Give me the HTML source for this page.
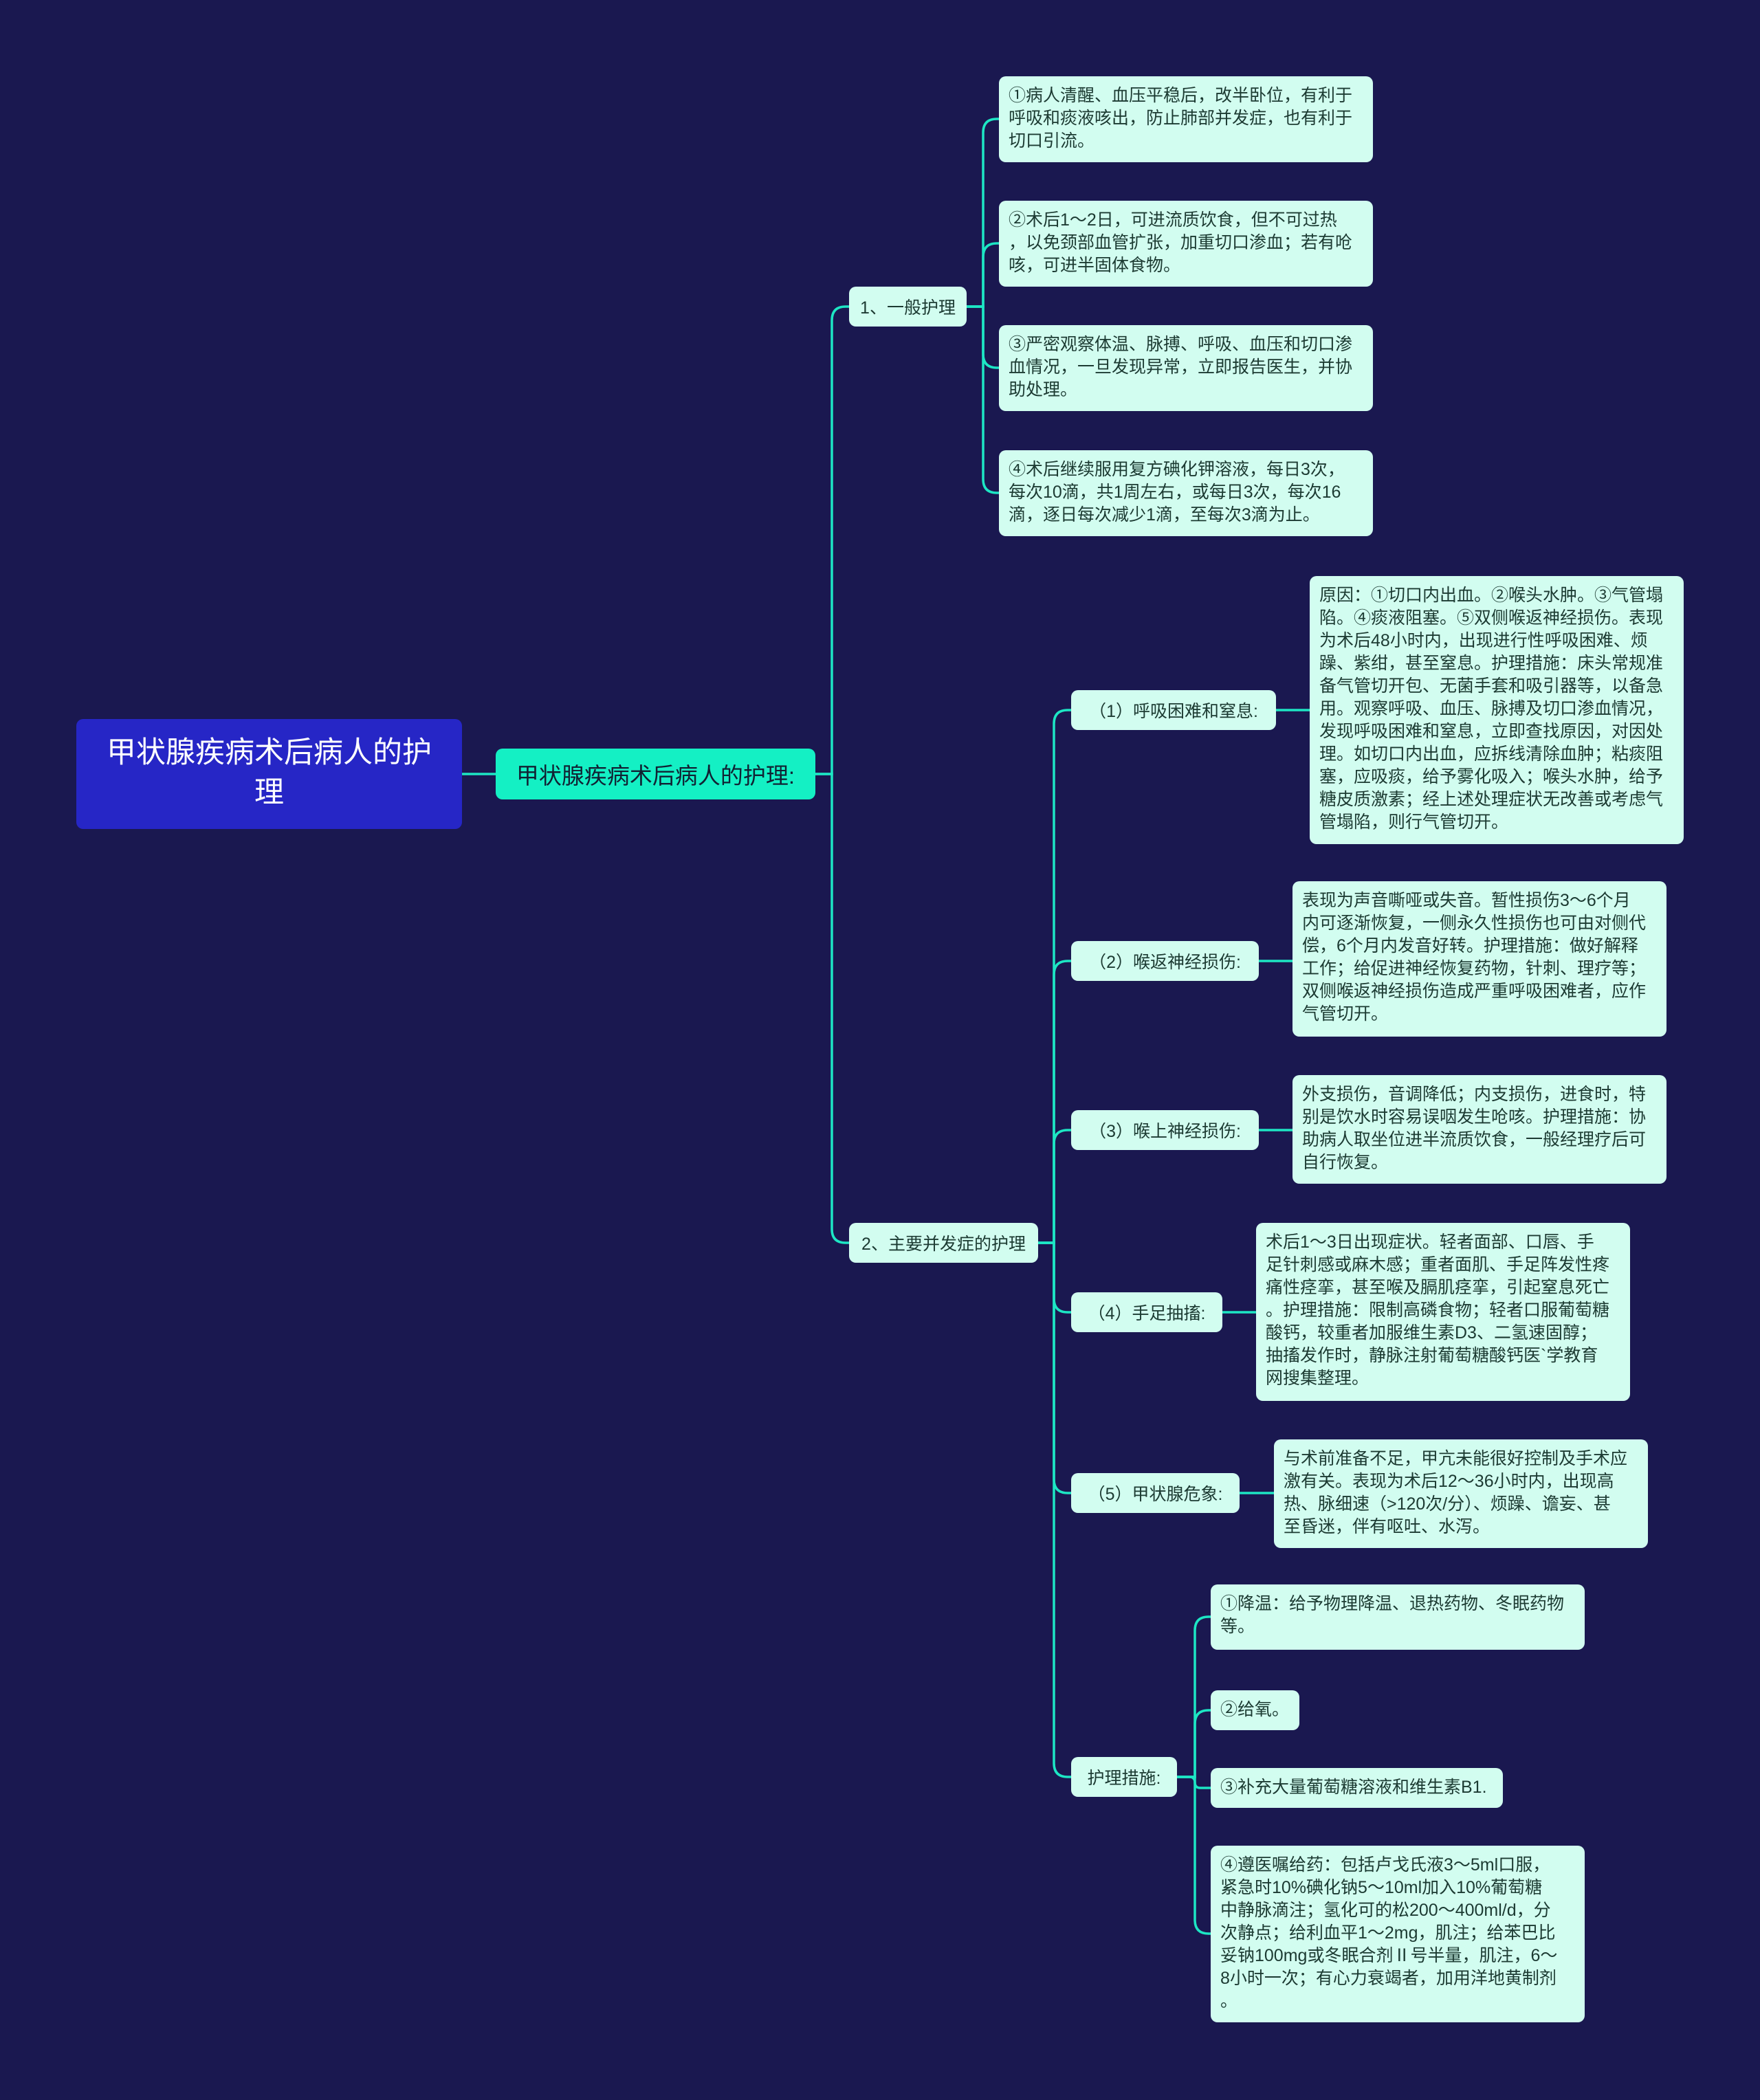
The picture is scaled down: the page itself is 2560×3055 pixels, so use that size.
<!DOCTYPE html>
<html><head><meta charset="utf-8"><style>
html,body{margin:0;padding:0}
body{width:2560px;height:3055px;background:#1a1850;position:relative;overflow:hidden;font-family:"Liberation Sans","Noto Sans CJK SC",sans-serif}
.n{position:absolute;box-sizing:border-box;border-radius:10px;white-space:nowrap}
.leaf{background:#d2fdf0;color:#1c3a32;font-size:25px;line-height:33px;padding:12px 14px}
.mid{background:#d2fdf0;color:#1c3a32;font-size:25px;display:flex;align-items:center;justify-content:center}
svg{position:absolute;left:0;top:0}
</style></head><body>
<svg width="2560" height="3055" fill="none" stroke="#1de6c4" stroke-width="3.5">
<path d="M672,1126 H721"/>
<path d="M1186,1126 H1210 V466 Q1210,446 1230,446 H1235"/>
<path d="M1186,1126 H1210 V1788 Q1210,1808 1230,1808 H1235"/>
<path d="M1406,446 H1430 V193 Q1430,173 1450,173 H1453"/>
<path d="M1406,446 H1430 V374 Q1430,354 1450,354 H1453"/>
<path d="M1406,446 H1430 V515 Q1430,535 1450,535 H1453"/>
<path d="M1406,446 H1430 V697 Q1430,717 1450,717 H1453"/>
<path d="M1510,1808 H1533 V1053 Q1533,1033 1553,1033 H1558"/>
<path d="M1510,1808 H1533 V1418 Q1533,1398 1553,1398 H1558"/>
<path d="M1510,1808 H1533 V1664 Q1533,1644 1553,1644 H1558"/>
<path d="M1510,1808 H1533 V1889 Q1533,1909 1553,1909 H1558"/>
<path d="M1510,1808 H1533 V2152 Q1533,2172 1553,2172 H1558"/>
<path d="M1510,1808 H1533 V2565 Q1533,2585 1553,2585 H1558"/>
<path d="M1856,1033 H1905"/><path d="M1831,1398 H1880"/><path d="M1831,1644 H1880"/><path d="M1778,1909 H1827"/><path d="M1803,2172 H1853"/>
<path d="M1712,2585 H1738 V2372 Q1738,2352 1758,2352 H1761"/>
<path d="M1712,2585 H1738 V2508 Q1738,2488 1758,2488 H1761"/>
<path d="M1712,2585 H1730 Q1738,2585 1738,2593 Q1738,2601 1746,2601 H1761"/>
<path d="M1712,2585 H1738 V2793 Q1738,2813 1758,2813 H1761"/>
</svg>

<div class="n" style="left:111px;top:1046px;width:561px;height:160px;background:#2626c6;color:#fff;font-size:43px;line-height:58px;text-align:center;padding-top:20px">甲状腺疾病术后病人的护<br>理</div>
<div class="n" style="left:721px;top:1089px;width:465px;height:74px;background:#14f0c4;color:#123;font-size:33px;display:flex;align-items:center;justify-content:center">甲状腺疾病术后病人的护理:</div>

<div class="n mid" style="left:1235px;top:417px;width:171px;height:58px">1、一般护理</div>
<div class="n mid" style="left:1235px;top:1779px;width:275px;height:58px">2、主要并发症的护理</div>

<div class="n leaf" style="left:1453px;top:111px;width:544px;height:125px">①病人清醒、血压平稳后，改半卧位，有利于<br>呼吸和痰液咳出，防止肺部并发症，也有利于<br>切口引流。</div>
<div class="n leaf" style="left:1453px;top:292px;width:544px;height:125px">②术后1～2日，可进流质饮食，但不可过热<br>，以免颈部血管扩张，加重切口渗血；若有呛<br>咳，可进半固体食物。</div>
<div class="n leaf" style="left:1453px;top:473px;width:544px;height:125px">③严密观察体温、脉搏、呼吸、血压和切口渗<br>血情况，一旦发现异常，立即报告医生，并协<br>助处理。</div>
<div class="n leaf" style="left:1453px;top:655px;width:544px;height:125px">④术后继续服用复方碘化钾溶液，每日3次，<br>每次10滴，共1周左右，或每日3次，每次16<br>滴，逐日每次减少1滴，至每次3滴为止。</div>

<div class="n mid" style="left:1558px;top:1004px;width:298px;height:58px">（1）呼吸困难和窒息:</div>
<div class="n mid" style="left:1558px;top:1369px;width:273px;height:58px">（2）喉返神经损伤:</div>
<div class="n mid" style="left:1558px;top:1615px;width:273px;height:58px">（3）喉上神经损伤:</div>
<div class="n mid" style="left:1558px;top:1880px;width:220px;height:58px">（4）手足抽搐:</div>
<div class="n mid" style="left:1558px;top:2143px;width:245px;height:58px">（5）甲状腺危象:</div>
<div class="n mid" style="left:1558px;top:2556px;width:154px;height:58px">护理措施:</div>

<div class="n leaf" style="left:1905px;top:838px;width:544px;height:390px">原因：①切口内出血。②喉头水肿。③气管塌<br>陷。④痰液阻塞。⑤双侧喉返神经损伤。表现<br>为术后48小时内，出现进行性呼吸困难、烦<br>躁、紫绀，甚至窒息。护理措施：床头常规准<br>备气管切开包、无菌手套和吸引器等，以备急<br>用。观察呼吸、血压、脉搏及切口渗血情况，<br>发现呼吸困难和窒息，立即查找原因，对因处<br>理。如切口内出血，应拆线清除血肿；粘痰阻<br>塞，应吸痰，给予雾化吸入；喉头水肿，给予<br>糖皮质激素；经上述处理症状无改善或考虑气<br>管塌陷，则行气管切开。</div>
<div class="n leaf" style="left:1880px;top:1282px;width:544px;height:226px">表现为声音嘶哑或失音。暂性损伤3～6个月<br>内可逐渐恢复，一侧永久性损伤也可由对侧代<br>偿，6个月内发音好转。护理措施：做好解释<br>工作；给促进神经恢复药物，针刺、理疗等；<br>双侧喉返神经损伤造成严重呼吸困难者，应作<br>气管切开。</div>
<div class="n leaf" style="left:1880px;top:1564px;width:544px;height:158px">外支损伤，音调降低；内支损伤，进食时，特<br>别是饮水时容易误咽发生呛咳。护理措施：协<br>助病人取坐位进半流质饮食，一般经理疗后可<br>自行恢复。</div>
<div class="n leaf" style="left:1827px;top:1779px;width:544px;height:259px">术后1～3日出现症状。轻者面部、口唇、手<br>足针刺感或麻木感；重者面肌、手足阵发性疼<br>痛性痉挛，甚至喉及膈肌痉挛，引起窒息死亡<br>。护理措施：限制高磷食物；轻者口服葡萄糖<br>酸钙，较重者加服维生素D3、二氢速固醇；<br>抽搐发作时，静脉注射葡萄糖酸钙医`学教育<br>网搜集整理。</div>
<div class="n leaf" style="left:1853px;top:2094px;width:544px;height:158px">与术前准备不足，甲亢未能很好控制及手术应<br>激有关。表现为术后12～36小时内，出现高<br>热、脉细速（>120次/分）、烦躁、谵妄、甚<br>至昏迷，伴有呕吐、水泻。</div>

<div class="n leaf" style="left:1761px;top:2305px;width:544px;height:95px">①降温：给予物理降温、退热药物、冬眠药物<br>等。</div>
<div class="n leaf" style="left:1761px;top:2459px;width:129px;height:58px">②给氧。</div>
<div class="n leaf" style="left:1761px;top:2572px;width:425px;height:58px">③补充大量葡萄糖溶液和维生素B1.</div>
<div class="n leaf" style="left:1761px;top:2685px;width:544px;height:257px">④遵医嘱给药：包括卢戈氏液3～5ml口服，<br>紧急时10%碘化钠5～10ml加入10%葡萄糖<br>中静脉滴注；氢化可的松200～400ml/d，分<br>次静点；给利血平1～2mg，肌注；给苯巴比<br>妥钠100mg或冬眠合剂Ⅱ号半量，肌注，6～<br>8小时一次；有心力衰竭者，加用洋地黄制剂<br>。</div>
</body></html>
